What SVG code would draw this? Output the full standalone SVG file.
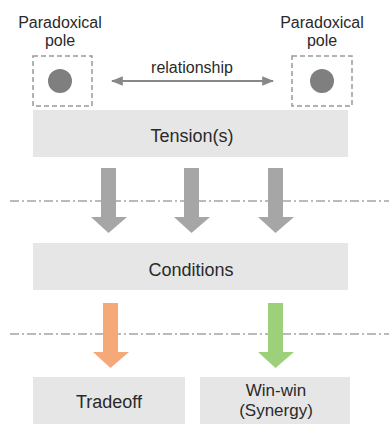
<svg xmlns="http://www.w3.org/2000/svg" width="389" height="424" viewBox="0 0 389 424">
<defs>
<style>
text{font-family:"Liberation Sans",Arial,sans-serif;fill:#2a2a2a;text-anchor:middle}
.lbl{font-size:16px}
.box{fill:#e6e6e6}
.pole{fill:none;stroke:#999;stroke-width:1.5;stroke-dasharray:5,3}
.dot{fill:#7f7f7f}
.sep{stroke:#777;stroke-width:1.2;stroke-dasharray:9,3,2,3;fill:none}
.big{font-size:18px}
.two{font-size:17px}
</style>
<marker id="ah" viewBox="0 0 10 10" refX="9" refY="5" markerWidth="6" markerHeight="6" orient="auto-start-reverse">
<path d="M0,1 L10,5 L0,9 Z" fill="#888"/>
</marker>
</defs>
<rect width="389" height="424" fill="#fff"/>
<g id="pole-left">
<text class="lbl" x="60" y="28">Paradoxical</text>
<text class="lbl" x="60" y="46">pole</text>
<rect class="pole" x="33" y="56" width="59" height="50"/>
<circle class="dot" cx="60" cy="81" r="12"/>
</g>
<g id="pole-right">
<text class="lbl" x="322" y="28">Paradoxical</text>
<text class="lbl" x="322" y="46">pole</text>
<rect class="pole" x="292" y="56" width="60" height="50"/>
<circle class="dot" cx="322" cy="81" r="12"/>
</g>
<g id="tension">
<rect class="box" x="33" y="110" width="315" height="47"/>
<text class="big" x="192" y="142">Tension(s)</text>
</g>
<g id="conditions">
<rect class="box" x="33" y="243" width="315" height="47"/>
<text class="big" x="191" y="276">Conditions</text>
</g>
<g id="tradeoff">
<rect class="box" x="33" y="377" width="152" height="47"/>
<text class="big" x="109" y="408">Tradeoff</text>
</g>
<g id="winwin">
<rect class="box" x="200" y="377" width="150" height="47"/>
<text class="two" x="276" y="396">Win-win</text>
<text class="two" x="276" y="416">(Synergy)</text>
</g>
<g id="connectors">
<line x1="112" y1="81" x2="273" y2="81" stroke="#888" stroke-width="2" marker-start="url(#ah)" marker-end="url(#ah)"/>
<text class="lbl" x="192" y="73">relationship</text>
<line class="sep" x1="10" y1="201" x2="389" y2="201"/>
<line class="sep" x1="10" y1="334" x2="389" y2="334"/>
<path d="M101,168 H116 V217 H127 L108.5,233 L91,217 H101 Z" fill="#a6a6a6"/>
<path d="M184,168 H199 V217 H210 L191.5,233 L174,217 H184 Z" fill="#a6a6a6"/>
<path d="M268,168 H283 V217 H294 L275.5,233 L258,217 H268 Z" fill="#a6a6a6"/>
<path d="M103,303 H118 V352 H129 L110.5,368 L93,352 H103 Z" fill="#f5a878"/>
<path d="M268,303 H283 V352 H294 L275.5,368 L258,352 H268 Z" fill="#9dd07a"/>
</g>
</svg>
